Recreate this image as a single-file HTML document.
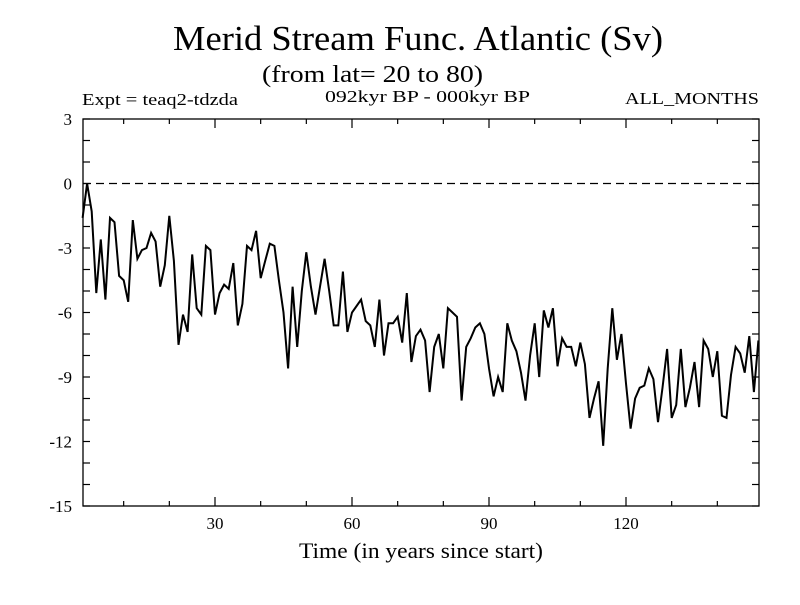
<!DOCTYPE html>
<html><head><meta charset="utf-8"><style>
body{margin:0;background:#fff;}
svg text{font-family:"Liberation Serif",serif;fill:#000;}
</style></head><body>
<svg id="chart" width="800" height="600" xmlns="http://www.w3.org/2000/svg">
<rect width="800" height="600" fill="#fff"/>
<text x="173" y="50" font-size="35" textLength="490" lengthAdjust="spacingAndGlyphs">Merid Stream Func. Atlantic (Sv)</text>
<text x="262" y="82" font-size="24" textLength="221" lengthAdjust="spacingAndGlyphs">(from lat= 20 to 80)</text>
<text x="82" y="105" font-size="17" textLength="156" lengthAdjust="spacingAndGlyphs">Expt = teaq2-tdzda</text>
<text x="325" y="102" font-size="17" textLength="205" lengthAdjust="spacingAndGlyphs">092kyr BP - 000kyr BP</text>
<text x="625" y="104" font-size="17" textLength="134" lengthAdjust="spacingAndGlyphs">ALL_MONTHS</text>
<text x="299" y="558" font-size="22" textLength="244" lengthAdjust="spacingAndGlyphs">Time (in years since start)</text>
<g id="axes"></g>
<g id="series"></g>
</svg>
<script>
const years=[];for(let i=1;i<=149;i++)years.push(i);
const values=[-1.6,0,-1.3,-5.1,-2.6,-5.4,-1.6,-1.8,-4.3,-4.5,-5.5,-1.7,-3.5,-3.1,-3.0,-2.3,-2.7,-4.8,-3.8,-1.5,-3.6,-7.5,-6.1,-6.9,-3.3,-5.8,-6.1,-2.9,-3.1,-6.1,-5.1,-4.7,-4.9,-3.7,-6.6,-5.6,-2.9,-3.1,-2.2,-4.4,
-3.6,-2.8,-2.9,-4.5,-6.0,-8.6,-4.8,-7.6,-5.0,-3.2,-4.8,-6.1,-4.8,-3.5,-5.0,-6.6,-6.6,-4.1,-6.9,-6.0,-5.7,-5.4,-6.4,-6.6,-7.6,-5.4,-8.0,-6.5,-6.5,-6.2,-7.4,-5.1,-8.3,-7.1,-6.8,-7.3,-9.7,
-7.6,-7.0,-8.6,-5.8,-6.0,-6.2,-10.1,-7.6,-7.2,-6.7,-6.5,-7.0,-8.6,-9.9,-9.0,-9.7,-6.5,-7.3,-7.8,-8.8,-10.1,-8.0,-6.5,-9.0,-5.9,-6.7,-5.8,-8.5,-7.2,-7.6,-7.6,-8.5,-7.4,-8.4,-10.9,-10.0,-9.2,-12.2,
-8.6,-5.8,-8.2,-7.0,-9.3,-11.4,-10.0,-9.5,-9.4,-8.6,-9.1,-11.1,-9.5,-7.7,-10.9,-10.3,-7.7,-10.4,-9.5,-8.3,-10.4,-7.3,-7.7,-9.0,-7.8,-10.8,-10.9,-8.9,-7.6,-7.9,-8.8,-7.1,-9.7,-7.3];
const yTickLabels=[3,0,-3,-6,-9,-12,-15];
const xTickLabels=[30,60,90,120];
const NS="http://www.w3.org/2000/svg";
const L=83,R=759,T=119,B=506;
const xs=t=>78+(t)*(137/30);
const ys=v=>T+(3-v)*(B-T)/18;
function mk(tag,attrs,parent){const e=document.createElementNS(NS,tag);for(const k in attrs)e.setAttribute(k,attrs[k]);parent.appendChild(e);return e;}
const ax=document.getElementById('axes');
const frame=mk('rect',{x:L,y:T,width:R-L,height:B-T,fill:'none',stroke:'#000','stroke-width':1.3},ax);


for(let v=-15;v<=3;v++){const y=ys(v);
 const t1=mk('line',{x1:L,x2:L+7,y1:y,y2:y,stroke:'#000','stroke-width':1.2},ax);
 
 
 const t2=mk('line',{x1:R-7,x2:R,y1:y,y2:y,stroke:'#000','stroke-width':1.2},ax);
 
 }
yTickLabels.forEach(v=>{const tx=mk('text',{x:72,y:ys(v)+6,'font-size':17,'text-anchor':'end'},ax);tx.textContent=v;
 
 });
for(let t=10;t<=140;t+=10){const x=xs(t);const major=t%30===0;
 const a=mk('line',{x1:x,x2:x,y1:B,y2:B-(major?9:5),stroke:'#000','stroke-width':1.2},ax);
 
 
 const b=mk('line',{x1:x,x2:x,y1:T,y2:T+(major?9:5),stroke:'#000','stroke-width':1.2},ax);
 
 }
xTickLabels.forEach(t=>{const tx=mk('text',{x:xs(t),y:529,'font-size':17,'text-anchor':'middle'},ax);tx.textContent=t;
 
 });
const zl=mk('line',{x1:L,x2:R,y1:ys(0),y2:ys(0),stroke:'#000','stroke-width':1.2,'stroke-dasharray':'8,5'},ax);


const pts=values.map((v,i)=>xs(years[i]).toFixed(1)+','+ys(v).toFixed(1)).join(' ');
const pl=mk('polyline',{points:pts,fill:'none',stroke:'#000','stroke-width':2,'stroke-linejoin':'miter'},document.getElementById('series'));


</script>
</body></html>
